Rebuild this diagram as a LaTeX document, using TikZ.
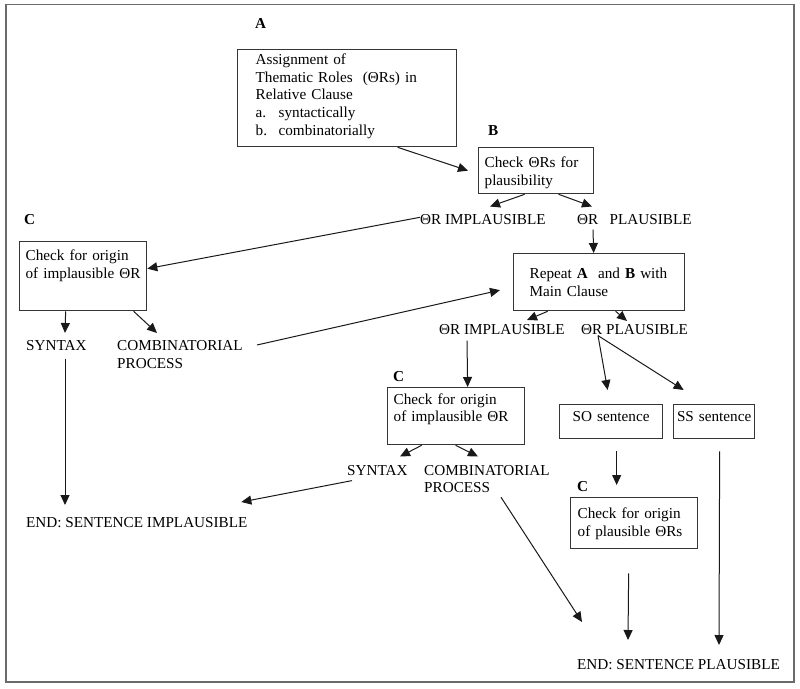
\documentclass[tikz,border=0pt]{standalone}
\usepackage{fontspec}
\setmainfont{Liberation Serif}
\usepackage{tikz}
\usetikzlibrary{arrows.meta,positioning}

\definecolor{linegray}{HTML}{353535}
\definecolor{framegray}{HTML}{6A6A6A}

\begin{document}
\begin{tikzpicture}[x=1pt,y=1pt,
	every node/.style={font=\fontsize{15.2}{17.6}\selectfont, text=black},
	basic/.style = {draw=linegray, line width=1.3pt, rectangle, anchor=north west, align=left, inner ysep=4pt},
	txt/.style   = {inner sep=0pt, anchor=north west, align=left},
	tag/.style   = {txt, font=\fontsize{15.2}{17.6}\selectfont\bfseries},
	conn/.style  = {->, draw=black!90, line width=1pt},
	>={Triangle[length=10pt,width=9pt]}]

	\useasboundingbox (0,0) rectangle (800,-688);
	\draw[framegray, line width=1.6pt] (6,-4.5) rectangle (794,-682);

	% Letters of the stages
	\node[tag] (labA)  at (255,-18)    {A};
	\node[tag] (labB)  at (488,-125)   {B};
	\node[tag] (labC1) at (24,-214)    {C};
	\node[tag] (labC2) at (393,-371)   {C};
	\node[tag] (labC3) at (577,-481.7) {C};

	% Boxes
	\node[basic, text width=183pt, inner xsep=18pt, text height=11pt, text depth=78pt] (a) at (237,-49)
		{Assignment of\\ Thematic Roles \ (ΘRs) in\\ Relative Clause\\
		 \makebox[23pt][l]{a.}syntactically\\ \makebox[23pt][l]{b.}combinatorially};
	\node[basic, text width=103pt, inner xsep=6pt, text height=16pt, text depth=22pt] (b) at (478,-147)
		{Check ΘRs for\\ plausibility};
	\node[basic, text width=115pt, inner xsep=6pt, text height=15pt, text depth=46pt] (c1) at (19,-241)
		{Check for origin\\ of implausible ΘR};
	\node[basic, text width=139pt, inner xsep=16pt, text height=21pt, text depth=28pt] (rep) at (513,-253)
		{Repeat \textbf{A} \ and \textbf{B} with\\ Main Clause};
	\node[basic, text width=125pt, inner xsep=6pt, text height=12.5pt, text depth=36.5pt] (c2) at (387,-387)
		{Check for origin\\ of implausible ΘR};
	\node[basic, align=center, text width=95pt, inner xsep=4pt, text height=13pt, text depth=13pt] (so) at (559,-404)
		{SO sentence};
	\node[basic, align=center, text width=75pt, inner xsep=3pt, text height=13pt, text depth=13pt] (ss) at (673,-404)
		{SS sentence};
	\node[basic, text width=113pt, inner xsep=7pt, text height=17pt, text depth=26pt] (c3) at (570,-497)
		{Check for origin\\ of plausible ΘRs};

	% Outcomes
	\node[txt] (impl1)  at (420,-214.5) {ΘR IMPLAUSIBLE};
	\node[txt] (plaus1) at (577,-214.5) {ΘR \ \ PLAUSIBLE};
	\node[txt] (syn1)   at (26,-340.5)  {SYNTAX};
	\node[txt] (comb1)  at (117,-340.5) {COMBINATORIAL\\PROCESS};
	\node[txt] (endi)   at (26,-517)    {END: SENTENCE IMPLAUSIBLE};
	\node[txt] (impl2)  at (439,-324)   {ΘR IMPLAUSIBLE};
	\node[txt] (plaus2) at (581,-324)   {ΘR PLAUSIBLE};
	\node[txt] (syn2)   at (347,-465)   {SYNTAX};
	\node[txt] (comb2)  at (424,-465)   {COMBINATORIAL\\PROCESS};
	\node[txt] (endp)   at (577,-659)   {END: SENTENCE PLAUSIBLE};

	% Relative clause
	\draw[conn] ([xshift=50.5pt]a.south) -- ([xshift=-10pt]b.west);
	\draw[conn] ([xshift=-11.5pt]b.south) -- ([xshift=70pt,yshift=8pt]impl1.north west);
	\draw[conn] ([xshift=22.5pt]b.south) -- ([xshift=15pt,yshift=8pt]plaus1.north west);
	\draw[conn] ([yshift=2.5pt]impl1.west) -- ([yshift=7.5pt]c1.east);
	\draw[conn] ([xshift=16pt,yshift=-4.5pt]plaus1.south west) -- ([xshift=-5.5pt]rep.north);
	\draw[conn] ([xshift=-17.5pt]c1.south) -- ([xshift=39pt,yshift=7.5pt]syn1.north west);
	\draw[conn] ([xshift=50.5pt]c1.south) -- ([xshift=40pt,yshift=7.5pt]comb1.north west);
	\draw[conn] ([xshift=39pt,yshift=-7.5pt]syn1.south west) -- ([xshift=39pt,yshift=12pt]endi.north west);
	\draw[conn] ([xshift=14pt,yshift=-4.5pt]comb1.north east) -- ([xshift=-13pt,yshift=-8pt]rep.west);

	% Main clause
	\draw[conn] ([xshift=-51.5pt]rep.south) -- ([xshift=88pt,yshift=4pt]impl2.north west);
	\draw[conn] ([xshift=16.5pt]rep.south) -- ([xshift=46pt,yshift=3pt]plaus2.north west);
	\draw[conn] ([xshift=28pt,yshift=-6pt]impl2.south west) -- ([xshift=11.5pt]c2.north);
	\foreach \n/\s in {so/-3.5,ss/-30.5}
	\draw[conn] ([xshift=17pt,yshift=-1pt]plaus2.south west) -- ([xshift=\s pt,yshift=14pt]\n.north);
	\draw[conn] ([xshift=-34.5pt]c2.south) -- ([xshift=53pt,yshift=8.5pt]syn2.north west);
	\draw[conn] ([xshift=-0.5pt]c2.south) -- ([xshift=54pt,yshift=8.5pt]comb2.north west);
	\draw[conn] ([xshift=5pt,yshift=-5pt]syn2.south west) -- ([xshift=-6.3pt,yshift=15pt]endi.north east);
	\draw[conn] ([xshift=77pt,yshift=-4pt]comb2.south west) -- ([xshift=5pt,yshift=37pt]endp.north west);
	\draw[conn] ([xshift=5.5pt,yshift=-12pt]so.south) -- ([xshift=-17.5pt,yshift=12pt]c3.north);
	\draw[conn] ([xshift=-5.5pt,yshift=-24pt]c3.south) -- ([xshift=51pt,yshift=19pt]endp.north west);
	\draw[conn] ([xshift=5.5pt,yshift=-12pt]ss.south) -- ([xshift=142pt,yshift=14pt]endp.north west);

\end{tikzpicture}
\end{document}
